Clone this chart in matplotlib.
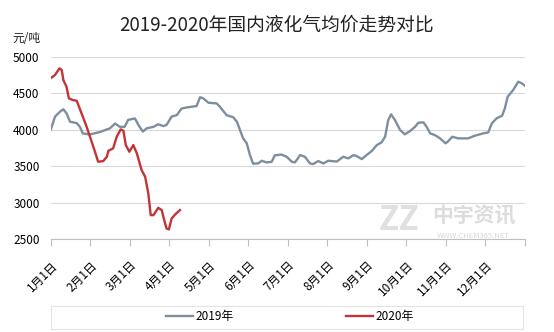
import matplotlib
matplotlib.use("Agg")
import matplotlib.pyplot as plt
from matplotlib.patches import Rectangle

plt.rcParams['font.family'] = ['Noto Sans CJK SC', 'DejaVu Sans']

# month offsets (0 = Jan 1, 12 = year end) and average prices, yuan/ton
x2019 = [0.00, 0.11, 0.24, 0.32, 0.40, 0.49, 0.66, 0.74, 0.81, 0.99,
         1.25, 1.50, 1.63, 1.75, 1.87, 1.96, 2.13, 2.22, 2.33, 2.43,
         2.60, 2.72, 2.85, 2.93, 3.06, 3.19, 3.31, 3.44, 3.57, 3.69,
         3.78, 3.86, 3.99, 4.20, 4.28, 4.45, 4.62, 4.71, 4.87, 4.96,
         5.04, 5.12, 5.25, 5.34, 5.46, 5.59, 5.67, 5.84, 5.97, 6.10,
         6.18, 6.31, 6.43, 6.56, 6.64, 6.77, 6.90, 7.02, 7.24, 7.40,
         7.53, 7.66, 7.74, 7.87, 7.99, 8.12, 8.25, 8.37, 8.46, 8.54,
         8.61, 8.71, 8.84, 8.96, 9.09, 9.22, 9.30, 9.43, 9.51, 9.60,
         9.72, 9.85, 9.99, 10.06, 10.16, 10.31, 10.56, 10.73, 10.94, 11.07,
         11.16, 11.28, 11.42, 11.49, 11.56, 11.70, 11.83, 11.92, 12.00]
p2019 = [4000, 4180, 4250, 4280, 4225, 4110, 4090, 4040, 3950, 3935,
         3970, 4020, 4085, 4040, 4040, 4135, 4155, 4065, 3975, 4020,
         4040, 4075, 4050, 4065, 4180, 4200, 4290, 4305, 4315, 4325,
         4445, 4430, 4370, 4360, 4315, 4200, 4170, 4110, 3880, 3815,
         3655, 3535, 3540, 3575, 3553, 3560, 3650, 3660, 3630, 3562,
         3553, 3653, 3630, 3539, 3530, 3571, 3539, 3575, 3565, 3630,
         3608, 3653, 3640, 3598, 3653, 3708, 3790, 3827, 3904, 4133,
         4211, 4133, 3996, 3937, 3982, 4041, 4096, 4101, 4041, 3950,
         3927, 3882, 3814, 3845, 3904, 3882, 3882, 3918, 3950, 3964,
         4087, 4156, 4192, 4293, 4452, 4544, 4658, 4635, 4603]

x2020 = [0.00, 0.11, 0.22, 0.28, 0.32, 0.40, 0.46, 0.57, 0.66, 0.91,
         1.12, 1.20, 1.33, 1.42, 1.46, 1.58, 1.67, 1.77, 1.84, 1.90,
         1.99, 2.09, 2.18, 2.30, 2.39, 2.47, 2.53, 2.60, 2.72, 2.81,
         2.85, 2.93, 2.99, 3.06, 3.15, 3.27]
p2020 = [4705, 4750, 4840, 4818, 4680, 4590, 4430, 4405, 4395, 4040,
         3700, 3562, 3571, 3630, 3712, 3745, 3904, 4005, 3986, 3790,
         3699, 3790, 3676, 3448, 3356, 3128, 2831, 2831, 2931, 2900,
         2808, 2649, 2635, 2786, 2841, 2900]

months = ['%d月1日' % m for m in range(1, 13)]

fig = plt.figure(figsize=(5.54, 3.32), dpi=100)
ax = fig.add_axes([0.0915, 0.2792, 0.8562, 0.55])

ax.plot(x2019, p2019, color='#7d8ea0', lw=1.7, label='2019年', zorder=3)
ax.plot(x2020, p2020, color='#c23436', lw=1.7, label='2020年', zorder=3)

ax.set_xlim(0, 12)
ax.set_ylim(2500, 5000)
ax.set_yticks([2500, 3000, 3500, 4000, 4500, 5000])
ax.yaxis.grid(True, color='#d9d9d9', lw=0.8)
ax.set_axisbelow(True)
ax.tick_params(axis='y', length=0, labelsize=8.5, pad=8)

ax.set_xticks(range(13))
ax.set_xticklabels(months + [''], rotation=45, ha='right', va='top',
                   rotation_mode='anchor', fontsize=8.5)
ax.tick_params(axis='x', length=5, color='#bfbfbf', pad=9)

for s in ['top', 'right', 'left']:
    ax.spines[s].set_visible(False)
ax.spines['bottom'].set_color('#bfbfbf')

fig.text(0.5, 0.925, '2019-2020年国内液化气均价走势对比', ha='center', va='center',
         fontsize=13.5, color='#222222')
fig.text(0.022, 0.885, '元/吨', ha='left', va='center', fontsize=8.5, color='#222222')

# watermark
fig.text(0.72, 0.335, 'ZZ', fontsize=24, fontweight='bold', color='#e0e0e0',
         ha='center', va='center', fontstyle='italic', zorder=0)
fig.text(0.855, 0.35, '中宇资讯', fontsize=15, fontweight='bold', color='#dcdcdc',
         ha='center', va='center', zorder=0)
fig.text(0.855, 0.29, 'WWW.CHEM365.NET', fontsize=5.5, color='#d8d8d8',
         ha='center', va='center', zorder=0)

# legend with its own wide frame
fig.patches.append(Rectangle((51 / 554, 1 - 329 / 332), 472 / 554, 23 / 332,
                             transform=fig.transFigure, fill=False,
                             edgecolor='#e3e3e3', lw=0.8))
fig.legend(loc='center', bbox_to_anchor=(289.5 / 554, 1 - 316.6 / 332), ncol=2,
           frameon=False, fontsize=8.5, handlelength=2.3, handletextpad=0.2,
           columnspacing=9.5)

fig.savefig('out.png', dpi=100, facecolor='white')
